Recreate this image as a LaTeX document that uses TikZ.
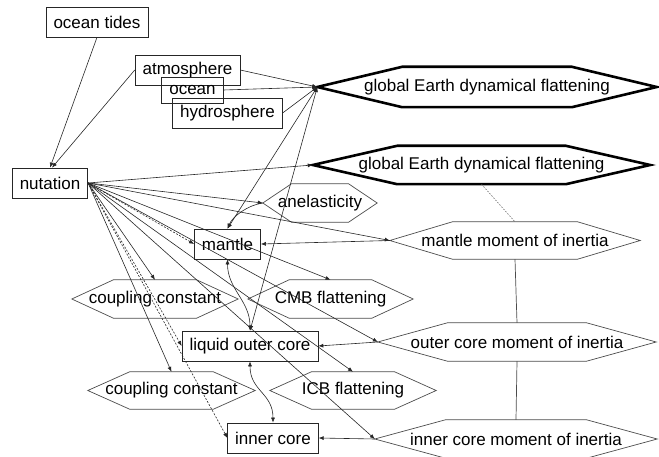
\documentclass[tikz,border=0pt]{standalone}
\usepackage{fontspec}
\setmainfont{Liberation Sans}
\usetikzlibrary{arrows.meta, calc}

\newcommand{\hexshape}[2][]{%
  \draw[hexline,#1] (#2.west)
    -- ($(#2.north west)!0.25!(#2.north east)$)
    -- ($(#2.north west)!0.75!(#2.north east)$)
    -- (#2.east)
    -- ($(#2.south west)!0.75!(#2.south east)$)
    -- ($(#2.south west)!0.25!(#2.south east)$) -- cycle;}

\begin{document}
\begin{tikzpicture}[x=1pt, y=-1pt,
    every node/.style={font=\fontsize{17}{20}\selectfont},
    box/.style={rectangle, draw=black!85, line width=0.7pt, inner xsep=7.5pt, inner ysep=0pt, minimum height=30pt},
    hexnode/.style={inner sep=0pt, minimum height=38pt},
    hexline/.style={draw=black!70, line width=0.7pt},
    flat/.style={line width=2.6pt, draw=black},
    arrow/.style={-{Latex[length=5pt, width=4pt]}, line width=0.6pt, color=black!85},
    both/.style={{Latex[length=5pt, width=4pt]}-{Latex[length=5pt, width=4pt]}, line width=0.6pt, color=black!85},
    dasharrow/.style={arrow, dash pattern=on 2pt off 1.5pt}
]
\useasboundingbox (0,0) rectangle (659,457);

% boxes
\node[box] (tides)  at (97,22)    {ocean tides};
\node[box] (atmos)  at (187.5,70) {atmosphere};
\node[box, minimum height=26pt] (ocean) at (192.5,90) {ocean};
\node[box] (hydro)  at (227.5,113) {hydrosphere};
\node[box] (nut)    at (50,183)   {nutation};
\node[box] (mantle) at (227.5,244) {mantle};
\node[box] (loc)    at (250,346)  {liquid outer core};
\node[box] (inner)  at (273,438)  {inner core};

% hexagons
\node[hexnode, minimum width=339pt, minimum height=40pt] (gedfa) at (487,87) {global Earth dynamical flattening};
\node[hexnode, minimum width=337pt] (gedfb) at (481.5,165) {global Earth dynamical flattening};
\node[hexnode, minimum width=114pt] (anel)  at (320,203)   {anelasticity};
\node[hexnode, minimum width=250pt, minimum height=37pt] (mmoi) at (515,240.5) {mantle moment of inertia};
\node[hexnode, minimum width=166pt] (cca)   at (155,299)   {coupling constant};
\node[hexnode, minimum width=165pt] (cmb)   at (330.5,299) {CMB flattening};
\node[hexnode, minimum width=278pt] (omoi)  at (517,342)   {outer core moment of inertia};
\node[hexnode, minimum width=167pt, minimum height=37pt] (ccb) at (171.5,390.5) {coupling constant};
\node[hexnode, minimum width=166pt, minimum height=37pt] (icb) at (353,390.5)   {ICB flattening};
\node[hexnode, minimum width=282pt] (imoi)  at (516,439)   {inner core moment of inertia};

\hexshape[flat]{gedfa}
\hexshape[flat]{gedfb}
\foreach \h in {anel, mmoi, cca, cmb, omoi, ccb, icb, imoi} {\hexshape{\h}}

% into nutation
\draw[arrow] (tides.south) -- (nut.north);
\draw[arrow] (atmos.west) -- ([xshift=2pt]nut.north);

% into flattening
\draw[arrow] (atmos.east) -- (gedfa.west);
\draw[arrow] (ocean.east) -- (gedfa.west);
\draw[arrow] (hydro.east) -- (gedfa.west);
\draw[both] (gedfa.west) -- (mantle.north);
\draw[both] (gedfa.west) -- (loc.north);

% out of nutation
\draw[arrow] (nut.east) -- (gedfb.west);
\draw[arrow] (nut.east) -- (anel.west);
\draw[arrow] (nut.east) -- (mmoi.west);
\draw[dasharrow] (nut.east) -- (mantle.west);
\draw[arrow] (nut.east) -- (cmb.north);
\draw[arrow] (nut.east) -- (omoi.west);
\draw[arrow] (nut.east) -- (icb.north);
\draw[arrow] (nut.east) -- (imoi.west);
\draw[arrow] (nut.east) -- (cca.north);
\draw[dasharrow] (nut.east) -- (loc.west);
\draw[dasharrow] (nut.east) -- (inner.west);
\draw[arrow] (nut.east) -- (ccb.north);

% moments of inertia
\draw[arrow] (mmoi.west) -- (mantle.east);
\draw[arrow] (omoi.west) -- (loc.east);
\draw[arrow] (imoi.west) -- (inner.east);
\draw[hexline] (mmoi.south) -- (omoi.north);
\draw[hexline] (omoi.south) -- (imoi.north);
\draw[hexline, line width=0.5pt, dash pattern=on 1.5pt off 1.5pt] (gedfb.south) -- (mmoi.north);

% layers
\draw[arrow] (anel.west) .. controls +(-15,2) and +(5,-12) .. (mantle.north);
\draw[both] (mantle.south) .. controls +(0,30) and +(0,-30) .. (loc.north);
\draw[both] (loc.south) .. controls +(0,30) and +(0,-30) .. (inner.north);
\end{tikzpicture}
\end{document}
